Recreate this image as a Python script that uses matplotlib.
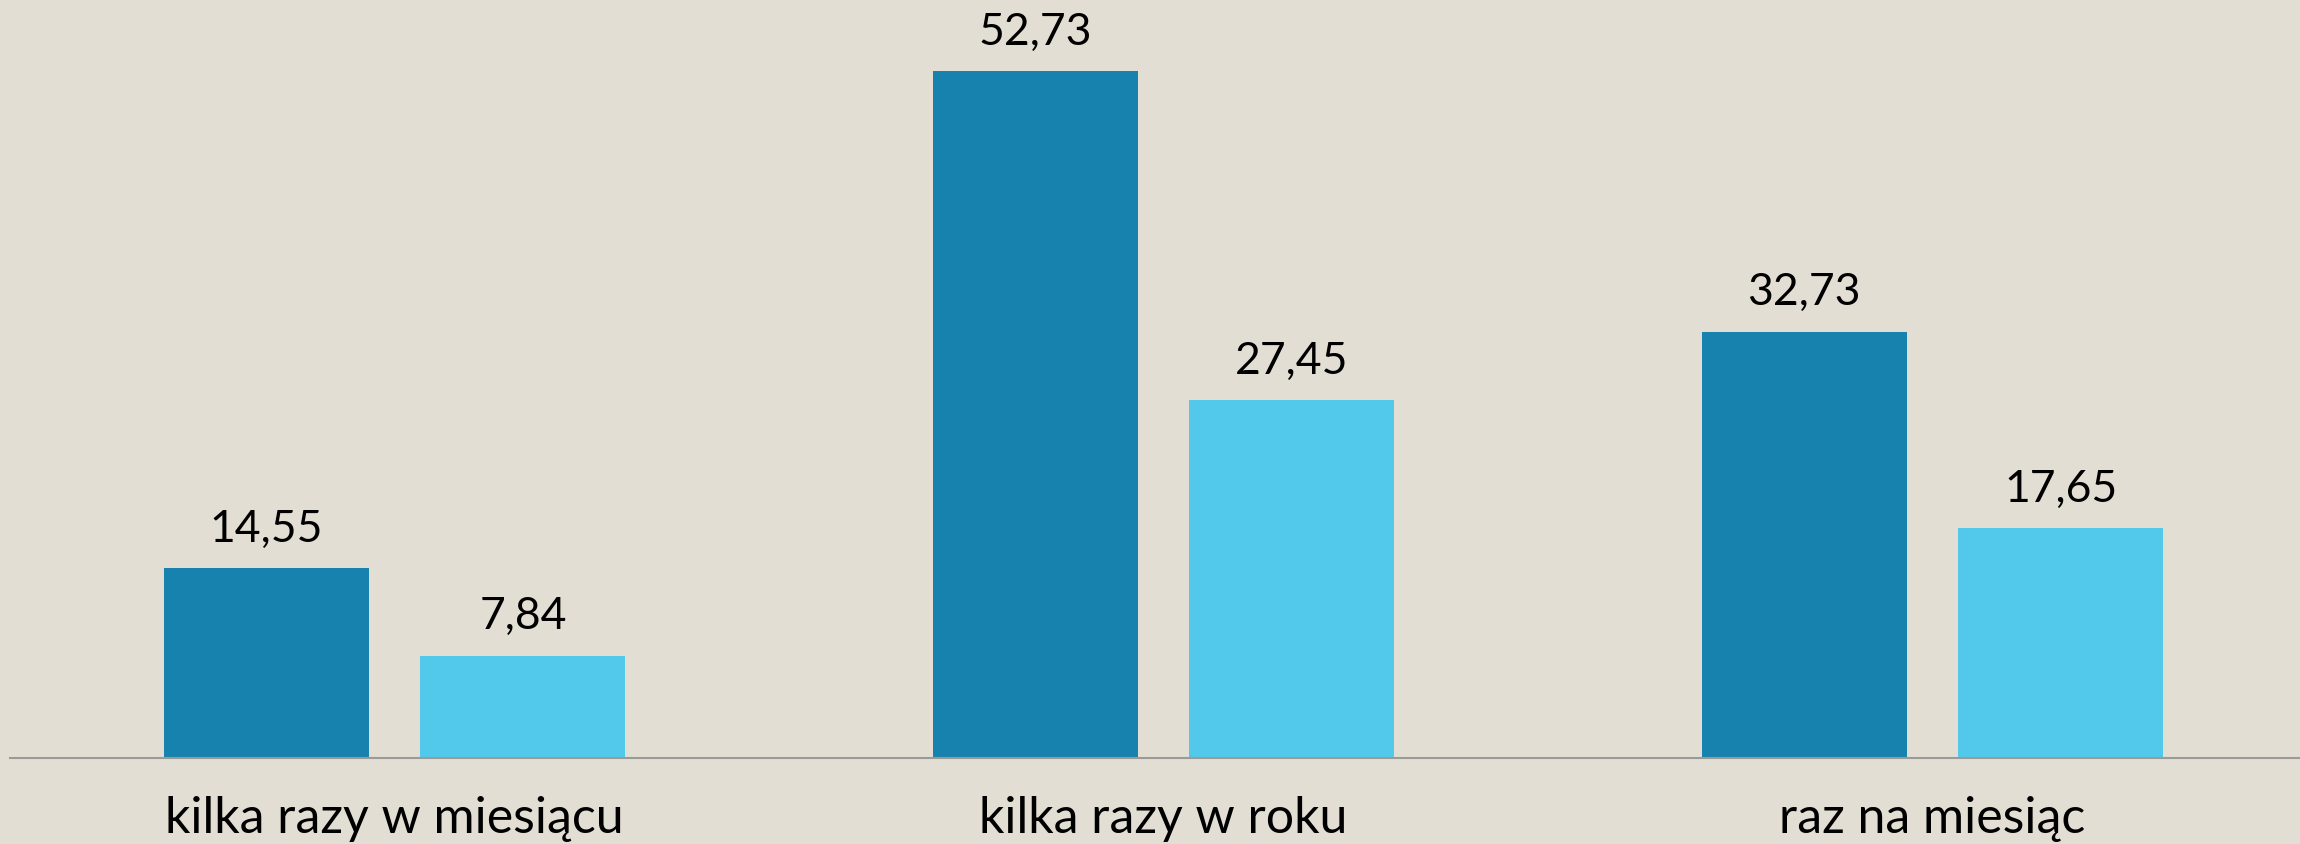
import matplotlib.pyplot as plt
import numpy as np

categories = ['kilka razy w miesiącu', 'kilka razy w roku', 'raz na miesiąc']
series_a = [14.55, 52.73, 32.73]
series_b = [7.84, 27.45, 17.65]
labels_a = ['14,55', '52,73', '32,73']
labels_b = ['7,84', '27,45', '17,65']

bg = '#E3DED3'
dark = '#1782AE'
light = '#52C8EA'

fig = plt.figure(figsize=(23, 8.45), dpi=100, facecolor=bg)
ax = fig.add_axes([10 / 2300, (845 - 759) / 845, 1 - 10 / 2300, 759 / 845])
ax.set_facecolor(bg)

x = np.arange(len(categories))
w = 0.2666
off = 0.167
ax.bar(x - off, series_a, width=w, color=dark)
ax.bar(x + off, series_b, width=w, color=light)

font = 'Lato'
for xi, v, t in zip(x - off, series_a, labels_a):
    ax.annotate(t, (xi, v), xytext=(0, 14), textcoords='offset points',
                ha='center', va='bottom', fontsize=32, family=font)
for xi, v, t in zip(x + off, series_b, labels_b):
    ax.annotate(t, (xi, v), xytext=(0, 14), textcoords='offset points',
                ha='center', va='bottom', fontsize=32, family=font)

ax.set_xlim(-0.5, 2.478)
ax.set_ylim(0, 58.25)
ax.set_xticks(x)
ax.set_xticklabels(categories, fontsize=36, family=font)
ax.tick_params(axis='x', length=0, pad=27)
ax.set_yticks([])
for s in ['top', 'right', 'left']:
    ax.spines[s].set_visible(False)
ax.spines['bottom'].set_color('#9A9A96')
ax.spines['bottom'].set_linewidth(1.5)

fig.savefig('out.png', dpi=100, facecolor=bg)
